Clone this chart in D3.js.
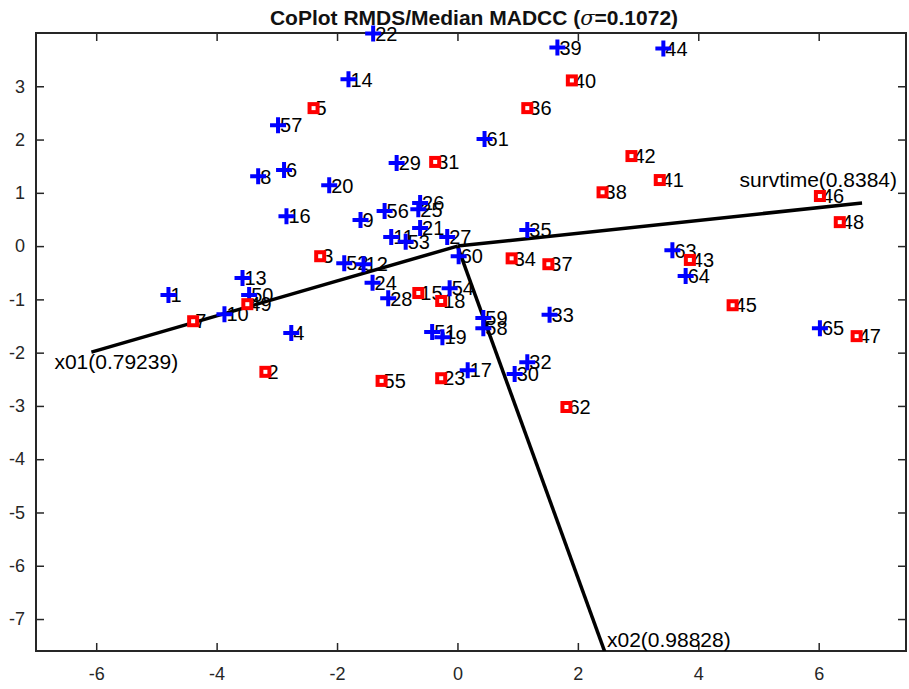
<!DOCTYPE html>
<html>
<head>
<meta charset="utf-8">
<script src="https://cdn.jsdelivr.net/npm/d3@7"></script>
<style>
  body { margin: 0; background: #fff; }
  text { font-family: "Liberation Sans", Arial, Helvetica, sans-serif; }
</style>
</head>
<body>
<div id="chart"></div>
<script>
// point ids and coordinates (RMDS map)
const blueIds = [1,4,6,8,9,10,11,12,13,14,16,17,19,20,21,22,24,25,26,27,28,29,30,32,33,35,39,44,50,51,52,53,54,56,57,58,59,60,61,63,64,65]
const blueX = [-4.80,-2.76,-2.88,-3.31,-1.61,-3.87,-1.10,-1.56,-3.57,-1.81,-2.84,0.17,-0.25,-2.13,-0.62,-1.40,-1.41,-0.65,-0.62,-0.17,-1.15,-1.01,0.95,1.16,1.53,1.16,1.66,3.42,-3.46,-0.42,-1.88,-0.86,-0.13,-1.21,-2.98,0.43,0.43,0.02,0.45,3.57,3.79,6.02]
const blueY = [-0.92,-1.63,1.43,1.31,0.49,-1.28,0.17,-0.34,-0.60,3.13,0.56,-2.33,-1.71,1.14,0.34,3.99,-0.69,0.69,0.81,0.17,-0.98,1.56,-2.40,-2.18,-1.29,0.30,3.73,3.71,-0.92,-1.61,-0.32,0.08,-0.79,0.66,2.27,-1.54,-1.35,-0.19,2.01,-0.08,-0.56,-1.54]

const redIds = [2,3,5,7,15,18,23,31,34,36,37,38,40,41,42,43,45,46,47,48,49,55,62]
const redX = [-3.19,-2.28,-2.39,-4.39,-0.65,-0.27,-0.27,-0.37,0.90,1.16,1.51,2.41,1.90,3.36,2.89,3.86,4.57,6.02,6.63,6.35,-3.49,-1.26,1.81]
const redY = [-2.36,-0.19,2.59,-1.41,-0.88,-1.03,-2.48,1.58,-0.23,2.59,-0.34,1.01,3.11,1.24,1.69,-0.26,-1.11,0.94,-1.69,0.45,-1.09,-2.53,-3.02]

// variable arrows (end points) and their labels
const varNames = ["survtime(0.8384)", "x01(0.79239)", "x02(0.98828)"]
const varX = [6.72, -6.08, 2.50]
const varY = [0.81, -1.99, -7.78]

const xTicks = [-6,-4,-2,0,2,4,6]
const yTicks = [-7,-6,-5,-4,-3,-2,-1,0,1,2,3]

var width = 909, height = 689
var pL = 36, pR = 906, pT = 33, pB = 651

var svg = d3.select("#chart").append("svg")
    .attr("width", width)
    .attr("height", height)

var x = d3.scaleLinear().domain([-7, 7.45]).range([pL, pR])
var y = d3.scaleLinear().domain([-7.6, 4.0]).range([pB, pT])

svg.append("defs").append("clipPath").attr("id", "clip")
    .append("rect").attr("x", pL).attr("y", pT)
    .attr("width", pR - pL).attr("height", pB - pT)

// axes, ticks inward on all four sides
const fmt = d => String(d)
svg.append("g").attr("transform", "translate(0," + pB + ")")
    .call(d3.axisBottom(x).tickValues(xTicks).tickFormat(fmt).tickSizeInner(-8).tickSizeOuter(0).tickPadding(16))
svg.append("g").attr("transform", "translate(0," + pT + ")")
    .call(d3.axisTop(x).tickValues(xTicks).tickFormat("").tickSizeInner(-8).tickSizeOuter(0))
svg.append("g").attr("transform", "translate(" + pL + ",0)")
    .call(d3.axisLeft(y).tickValues(yTicks).tickFormat(fmt).tickSizeInner(-8).tickSizeOuter(0).tickPadding(11))
svg.append("g").attr("transform", "translate(" + pR + ",0)")
    .call(d3.axisRight(y).tickValues(yTicks).tickFormat("").tickSizeInner(-8).tickSizeOuter(0))

svg.selectAll(".domain").remove()
svg.selectAll(".tick line").attr("stroke", "#262626").attr("stroke-width", 1.5)
svg.selectAll(".tick text").attr("font-size", 18).attr("fill", "#262626")
    .style("font-family", "'Liberation Sans', Arial, sans-serif")

svg.append("rect")
    .attr("x", pL).attr("y", pT)
    .attr("width", pR - pL).attr("height", pB - pT)
    .attr("fill", "none").attr("stroke", "#262626").attr("stroke-width", 2)

// arrows from origin
svg.append("g").attr("clip-path", "url(#clip)")
    .selectAll("line")
    .data(varX)
    .enter()
    .append("line")
    .attr("x1", x(0)).attr("y1", y(0))
    .attr("x2", d => x(d))
    .attr("y2", (d, i) => y(varY[i]))
    .attr("stroke", "black").attr("stroke-width", 3.5)

// arrow labels
const labAnchor = ["end", "start", "start"]
const labDx = [35, -37, -1]
const labDy = [-16, 17, -4]
svg.selectAll(".varlab")
    .data(varNames)
    .enter()
    .append("text")
    .attr("class", "varlab")
    .attr("x", (d, i) => Math.min(x(varX[i]), pR) + labDx[i])
    .attr("y", (d, i) => Math.min(y(varY[i]), pB) + labDy[i])
    .attr("text-anchor", (d, i) => labAnchor[i])
    .attr("font-size", 21)
    .text(d => d)

// point labels
const pts = blueIds.map((id, i) => ({id: id, x: blueX[i], y: blueY[i], c: "blue"}))
    .concat(redIds.map((id, i) => ({id: id, x: redX[i], y: redY[i], c: "red"})))

svg.append("g").selectAll("text")
    .data(pts)
    .enter()
    .append("text")
    .attr("x", d => x(d.x) + 2)
    .attr("y", d => y(d.y))
    .attr("dy", "0.36em")
    .attr("font-size", 20)
    .text(d => d.id)

// markers
svg.append("g").selectAll("path")
    .data(pts.filter(d => d.c == "blue"))
    .enter()
    .append("path")
    .attr("d", "M-8,0H8M0,-8V8")
    .attr("transform", d => "translate(" + x(d.x) + "," + y(d.y) + ")")
    .attr("stroke", "#0000ff").attr("stroke-width", 4)

svg.append("g").selectAll("rect")
    .data(pts.filter(d => d.c == "red"))
    .enter()
    .append("rect")
    .attr("x", d => x(d.x) - 4)
    .attr("y", d => y(d.y) - 4)
    .attr("width", 8).attr("height", 8)
    .attr("fill", "white")
    .attr("stroke", "#ff0000").attr("stroke-width", 4)

// title
var title = svg.append("text")
    .attr("x", 474).attr("y", 25)
    .attr("text-anchor", "middle")
    .attr("font-size", 21).attr("font-weight", "bold")
    .attr("fill", "#111")
title.append("tspan").text("CoPlot RMDS/Median MADCC (")
title.append("tspan").attr("font-style", "italic").attr("font-family", "'DejaVu Serif', serif").attr("font-weight", "normal").text("σ")
title.append("tspan").text("=0.1072)")
</script>
</body>
</html>
